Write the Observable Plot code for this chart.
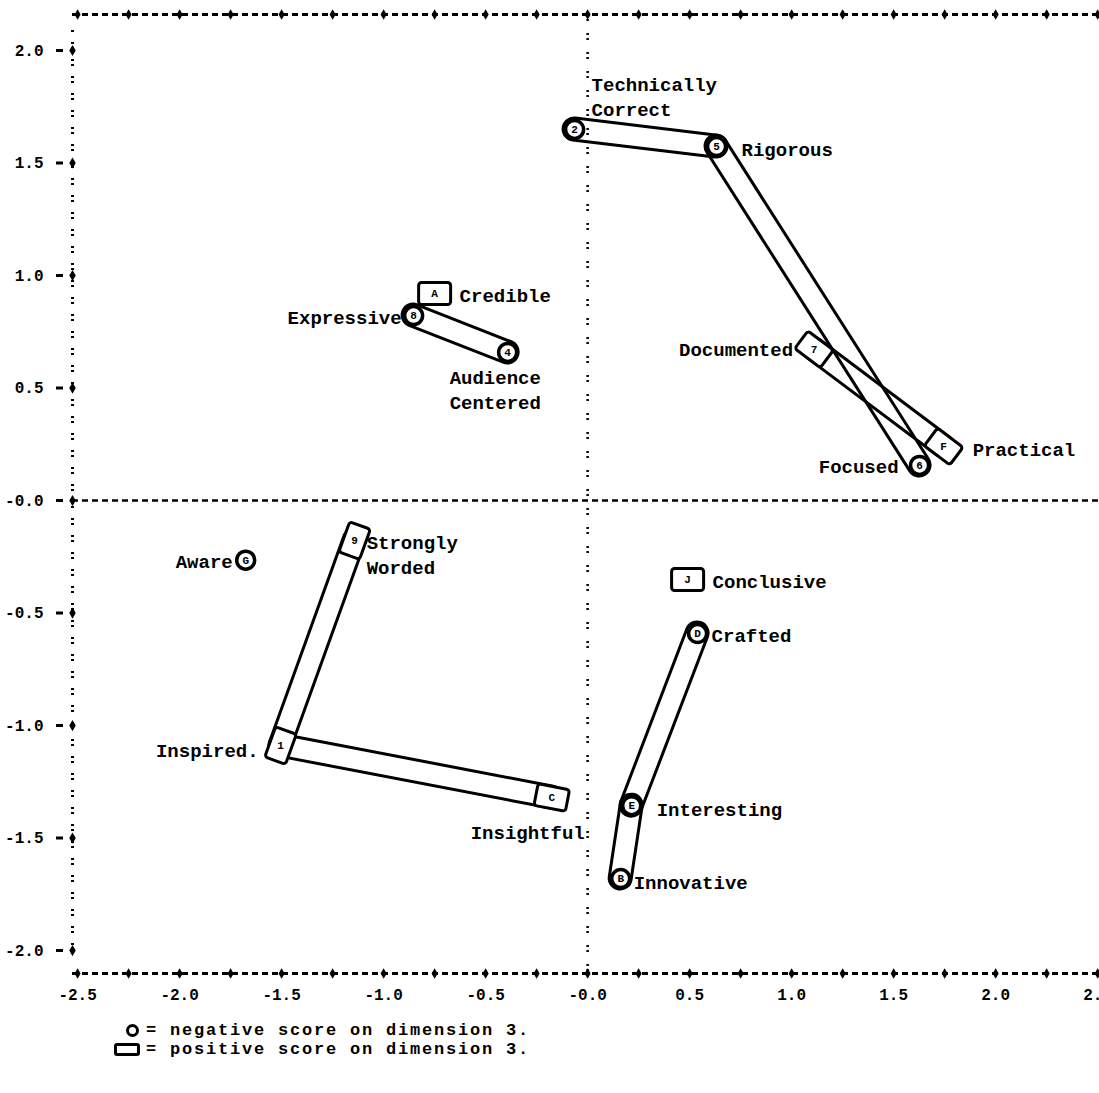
<!DOCTYPE html>
<html>
<head>
<meta charset="utf-8">
<script src="https://cdn.jsdelivr.net/npm/d3@7"></script>
<script src="https://cdn.jsdelivr.net/npm/@observablehq/plot@0.6"></script>
<style>
  html, body { margin: 0; padding: 0; background: #fff; overflow: hidden; }
  #chart svg { display: block; }
  #chart svg text { font-family: "Liberation Mono", "DejaVu Sans Mono", monospace; font-weight: bold; }
  .legend { font-family: "Liberation Mono", "DejaVu Sans Mono", monospace; font-weight: bold; font-size: 17px; letter-spacing: 1.8px; color: #000; margin-top: 11px; padding-left: 114px; }
  .legend .row { height: 19px; line-height: 19px; display: flex; align-items: center; white-space: pre; }
  .legend .sym { width: 26px; height: 19px; display: flex; align-items: center; justify-content: flex-end; }
  .legend .circ { width: 7px; height: 7px; border: 3px solid #000; border-radius: 50%; margin-right: 1px; }
  .legend .rect { width: 20px; height: 7px; border: 3px solid #000; border-radius: 3px; }
  .legend .txt { margin-left: 6px; }
</style>
</head>
<body>
<div id="chart"></div>
<div class="legend">
  <div class="row"><span class="sym"><span class="circ"></span></span><span class="txt">= negative score on dimension 3.</span></div>
  <div class="row"><span class="sym"><span class="rect"></span></span><span class="txt">= positive score on dimension 3.</span></div>
</div>
<script>
// ---- data ----
const names = ["Technically\nCorrect", "Rigorous", "Focused", "Documented", "Practical", "Credible",
  "Expressive", "Audience\nCentered", "Aware", "Strongly\nWorded", "Inspired.", "Insightful",
  "Conclusive", "Crafted", "Interesting", "Innovative"];
const codes = ["2", "5", "6", "7", "F", "A", "8", "4", "G", "9", "1", "C", "J", "D", "E", "B"];
const dim1 = [-0.064, 0.632, 1.627, 1.110, 1.745, -0.750, -0.853, -0.392, -1.676, -1.142, -1.505, -0.176, 0.490, 0.539, 0.216, 0.162];
const dim2 = [1.649, 1.573, 0.156, 0.672, 0.240, 0.920, 0.822, 0.658, -0.265, -0.178, -1.089, -1.320, -0.351, -0.591, -1.356, -1.680];
const dim3Sign = ["neg", "neg", "neg", "pos", "pos", "pos", "neg", "neg", "neg", "pos", "pos", "pos", "pos", "neg", "neg", "neg"];
const tubes = [["2", "5"], ["5", "6"], ["7", "F"], ["8", "4"], ["9", "1"], ["1", "C"], ["D", "E"], ["E", "B"]];
const yTicks = [2.0, 1.5, 1.0, 0.5, 0, -0.5, -1.0, -1.5, -2.0];
const xTicks = [-2.5, -2.0, -1.5, -1.0, -0.5, 0, 0.5, 1.0, 1.5, 2.0, 2.5];

// ---- label placement (style) ----
const labelPlacement = [
  {anchor: "start", dx: 17, dy: -34},
  {anchor: "start", dx: 25, dy: 1},
  {anchor: "end", dx: -21, dy: 0},
  {anchor: "end", dx: -21, dy: -1},
  {anchor: "start", dx: 29, dy: 1},
  {anchor: "start", dx: 25, dy: 0},
  {anchor: "end", dx: -12, dy: 0},
  {anchor: "start", dx: -58, dy: 36},
  {anchor: "end", dx: -13, dy: 0},
  {anchor: "start", dx: 12, dy: 13},
  {anchor: "end", dx: -22, dy: 3},
  {anchor: "end", dx: 33, dy: 33},
  {anchor: "start", dx: 25, dy: 0},
  {anchor: "start", dx: 14, dy: 0},
  {anchor: "start", dx: 25, dy: 2},
  {anchor: "start", dx: 13, dy: 2}
];

// ---- layout ----
const W = 1099, H = 1010, ML = 72, MR = 0, MT = 14, MB = 37;
const xDomain = [-2.525, 2.509], yDomain = [-2.102, 2.16];
const kx = (W - ML - MR) / (xDomain[1] - xDomain[0]);
const ky = (H - MT - MB) / (yDomain[1] - yDomain[0]);
const HALF = 11; // tube half width (px)

const pts = names.map((name, i) => ({name, code: codes[i], x: dim1[i], y: dim2[i], sign: dim3Sign[i], i}));
const byCode = new Map(pts.map(d => [d.code, d]));

function angleFor(d) {
  const t = tubes.find(([a, b]) => a === d.code || b === d.code);
  if (!t) return 0;
  const o = byCode.get(t[0] === d.code ? t[1] : t[0]);
  return Math.atan2(-(o.y - d.y) * ky, (o.x - d.x) * kx) * 180 / Math.PI;
}

const rectSymbol = {
  draw(ctx) {
    const a = 16, b = 11, r = 3;
    ctx.moveTo(-a + r, -b);
    ctx.lineTo(a - r, -b);
    ctx.arcTo(a, -b, a, -b + r, r);
    ctx.lineTo(a, b - r);
    ctx.arcTo(a, b, a - r, b, r);
    ctx.lineTo(-a + r, b);
    ctx.arcTo(-a, b, -a, b - r, r);
    ctx.lineTo(-a, -b + r);
    ctx.arcTo(-a, -b, -a + r, -b, r);
    ctx.closePath();
  }
};

const tubeMark = (index, scales) => {
  const g = d3.create("svg:g").attr("fill", "none").attr("stroke", "black").attr("stroke-width", 3).attr("stroke-linejoin", "round");
  for (const [a, b] of tubes) {
    const p = byCode.get(a), q = byCode.get(b);
    const x1 = scales.x(p.x), y1 = scales.y(p.y), x2 = scales.x(q.x), y2 = scales.y(q.y);
    const L = Math.hypot(x2 - x1, y2 - y1), ux = (x2 - x1) / L, uy = (y2 - y1) / L;
    const nx = -uy * HALF, ny = ux * HALF;
    g.append("path").attr("d",
      `M${x1 + nx},${y1 + ny}L${x2 + nx},${y2 + ny}A${HALF},${HALF} 0 0 0 ${x2 - nx},${y2 - ny}` +
      `L${x1 - nx},${y1 - ny}A${HALF},${HALF} 0 0 0 ${x1 + nx},${y1 + ny}Z`);
  }
  return g.node();
};

const quarterTicks = d3.range(-2.5, 2.51, 0.25);
const fmt = d => d === 0 ? "-0.0" : d.toFixed(1);

const labelMarks = pts.map((d, i) => Plot.text([d], {
  x: "x", y: "y", text: "name",
  textAnchor: labelPlacement[i].anchor, dx: labelPlacement[i].dx, dy: labelPlacement[i].dy,
  fontSize: 19, lineHeight: 1.32, fill: "black"
}));

const plot = Plot.plot({
  width: W, height: H,
  marginLeft: ML, marginRight: MR, marginTop: MT, marginBottom: MB,
  x: {domain: xDomain},
  y: {domain: yDomain},
  style: {fontFamily: "Liberation Mono, monospace", fontWeight: "bold", fontSize: "16px", background: "white", color: "black", overflow: "hidden"},
  marks: [
    // frame lines
    Plot.ruleY([yDomain[1], yDomain[0]], {y: d => d, strokeDasharray: "6,4", strokeWidth: 3}),
    Plot.ruleX([xDomain[0]], {x: d => d, y1: -2.0, y2: 2.09, strokeDasharray: "2,3,2,10", strokeWidth: 3}),
    Plot.ruleY([0], {y: d => d, strokeDasharray: "6,4", strokeWidth: 2.5}),
    Plot.ruleX([0], {x: d => d, strokeDasharray: "2,3,2,12", strokeWidth: 2.5}),
    Plot.dot(quarterTicks, {x: d => d, y: () => yDomain[1], symbol: "diamond", r: 3.2, fill: "black"}),
    Plot.dot(quarterTicks, {x: d => d, y: () => yDomain[0], symbol: "diamond", r: 3.2, fill: "black"}),
    Plot.dot(yTicks, {x: () => xDomain[0], y: d => d, symbol: "diamond", r: 3.4, fill: "black"}),
    Plot.axisY(yTicks, {anchor: "left", tickSize: 17, tickPadding: 12, strokeWidth: 3, strokeDasharray: "0,9,7,30", tickFormat: fmt, label: null, fontSize: 16}),
    Plot.axisX(xTicks, {anchor: "bottom", tickSize: 0, tickPadding: 15, tickFormat: fmt, label: null, fontSize: 16}),
    // tubes
    tubeMark,
    // markers
    Plot.dot(pts.filter(d => d.sign === "neg"), {x: "x", y: "y", r: 9, fill: "white", stroke: "black", strokeWidth: 3.5}),
    Plot.dot(pts.filter(d => d.sign === "pos"), {x: "x", y: "y", symbol: rectSymbol, rotate: d => angleFor(d), fill: "white", stroke: "black", strokeWidth: 3}),
    Plot.text(pts, {x: "x", y: "y", text: "code", fontSize: 11, fill: "black"}),
    ...labelMarks
  ]
});
document.getElementById("chart").appendChild(plot);
</script>
</body>
</html>
